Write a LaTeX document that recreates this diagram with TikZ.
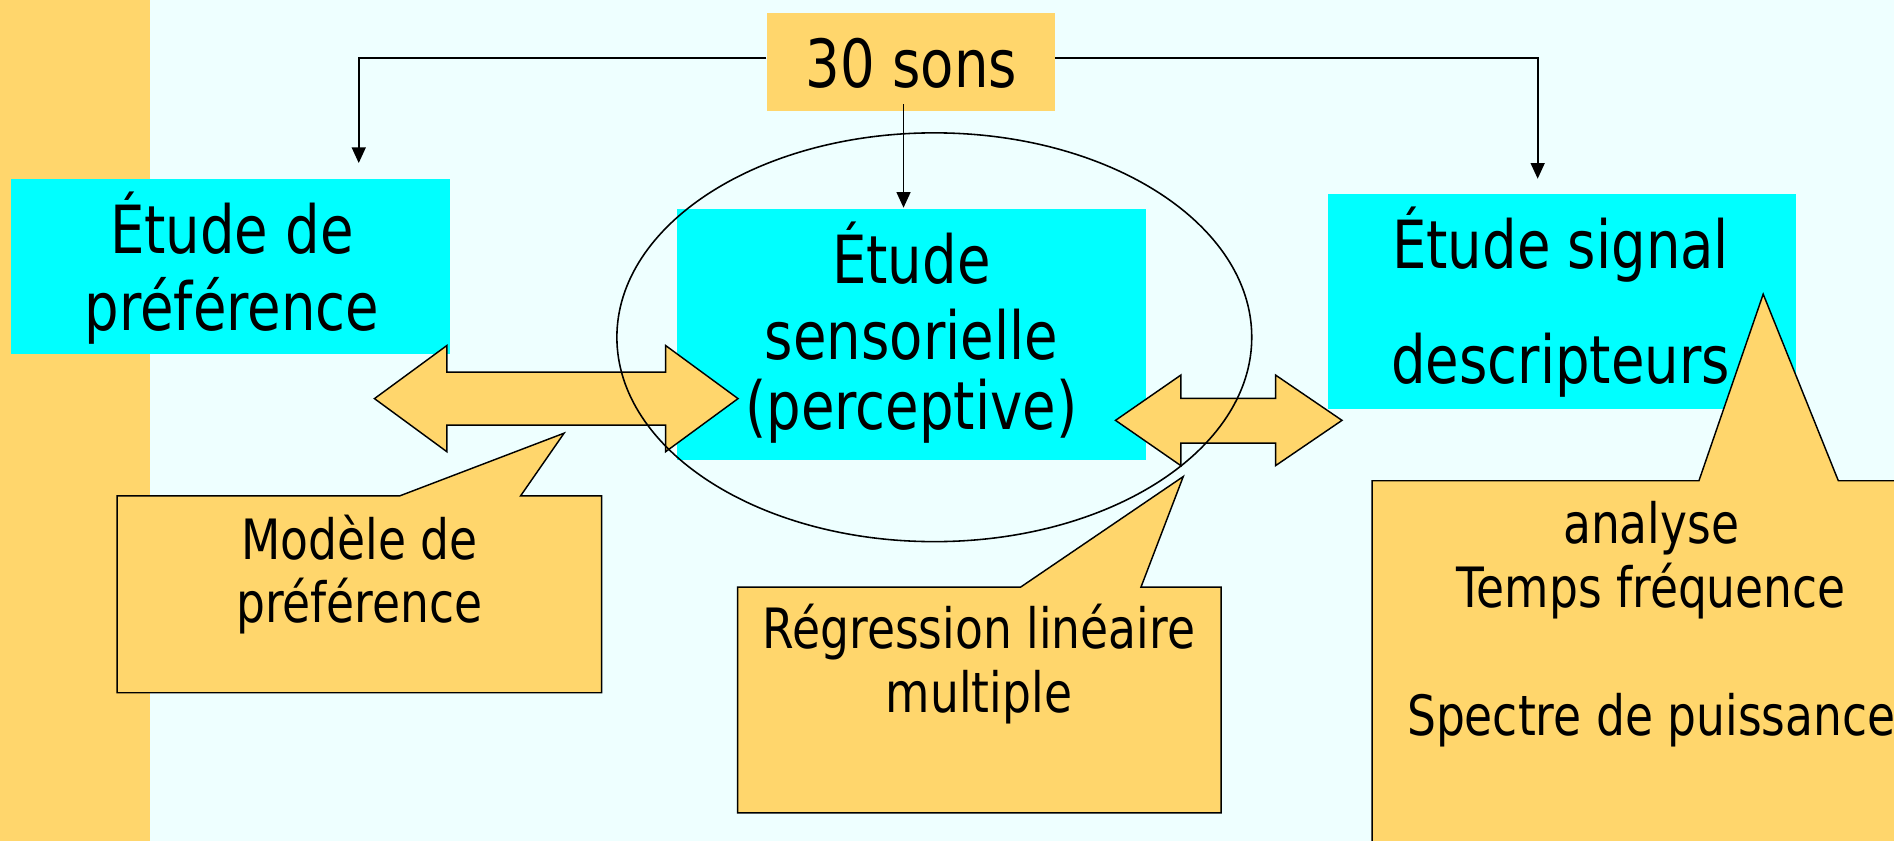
\documentclass[tikz,border=0pt]{standalone}
\usepackage{fontspec}
\setmainfont{DejaVu Sans}[FakeStretch=0.82]
\usetikzlibrary{arrows.meta}

\definecolor{sand}{RGB}{255,214,108}
\definecolor{aqua}{RGB}{0,255,255}
\definecolor{pale}{RGB}{238,255,255}

\tikzset{
  panel/.style={fill=aqua, draw=none, inner sep=0pt},
  tag/.style={fill=sand, draw=none, inner sep=0pt},
  bubble/.style={fill=sand, draw=black, line width=1.2pt, line join=miter},
  twoway/.style={fill=sand, draw=black, line width=1.2pt, line join=miter},
  bigtxt/.style={font=\fontsize{55}{66}\selectfont, inner sep=0pt, anchor=base},
  smalltxt/.style={font=\fontsize{46}{55}\selectfont, inner sep=0pt, anchor=base},
  feed/.style={line width=1.5pt, -{Triangle[length=13pt,width=11.5pt]}},
}

\begin{document}
\begin{tikzpicture}[x=1pt,y=-1pt]
\useasboundingbox (0,0) rectangle (1568,696);
\clip (0,0) rectangle (1568,696);

% slide background and left band
\fill[pale] (0,0) rectangle (1568,696);
\fill[sand] (0,0) rectangle (124.2,696);

% study boxes
\node[panel, minimum width=363.4pt, minimum height=144.8pt] (pref) at (190.8,220.9) {};
\node[panel, minimum width=388.1pt, minimum height=207.5pt] (sens) at (754.75,277.05) {};
\node[panel, minimum width=387.5pt, minimum height=178pt] (sig) at (1293,249.6) {};
\node[tag, minimum width=238.7pt, minimum height=81.1pt] (sons) at (754.05,51.05) {};

\node[bigtxt] (sonsT) at (754.5,72.3) {30 sons};

\node[bigtxt] (prefA) at (192,209.7) {Étude de};
\node[bigtxt] (prefB) at (192,273.2) {préférence};

\node[bigtxt] (sensA) at (754.5,234.6) {Étude};
\node[bigtxt] (sensB) at (754.5,298) {sensorielle};
\node[bigtxt] (sensC) at (754.5,355.4) {(perceptive)};

\node[bigtxt] (sigA) at (1292,222.1) {Étude signal};
\node[bigtxt] (sigB) at (1292,317.3) {descripteurs};

% feeds from the sound set
\coordinate (lvl) at (0,47.7);
\coordinate (tipL) at (297,135);
\coordinate (tipR) at (1273,148);
\coordinate (tipM) at (748,172);
\path ([yshift=5.6pt]sons.south) coordinate (msrc);
\draw[feed] (sons.west |- lvl) -| (tipL);
\draw[feed] (sons.east |- lvl) -| (tipR);
\draw[feed] (msrc -| tipM) -- (tipM);

% two-way block arrows
\draw[twoway] (310,330) -- (370,286) -- (370,308) -- (551,308) -- (551,286)
  -- (611,330) -- (551,374) -- (551,352) -- (370,352) -- (370,374) -- cycle;
\draw[twoway] (923.5,348) -- (977.6,310.5) -- (977.6,329.8) -- (1056,329.8)
  -- (1056,310.5) -- (1111,348) -- (1056,385.5) -- (1056,366.9)
  -- (977.6,366.9) -- (977.6,385.5) -- cycle;

% ring around the sensory study
\draw[line width=1.3pt] (773.5,279.2) ellipse [x radius=262.8pt, y radius=169.2pt];

% callouts
\draw[bubble] (97,410.5) -- (331,410.5) -- (467,358.6) -- (431,410.5)
  -- (498,410.5) -- (498,573.5) -- (97,573.5) -- cycle;
\node[smalltxt] (modA) at (297.5,463) {Modèle de};
\node[smalltxt] (modB) at (297.5,515) {préférence};

\draw[bubble] (610.6,486) -- (845,486) -- (979.6,394.5) -- (944.6,486)
  -- (1011,486) -- (1011,673) -- (610.6,673) -- cycle;
\node[smalltxt] (regA) at (810.5,537) {Régression linéaire};
\node[smalltxt] (regB) at (810.5,590) {multiple};

\draw[bubble] (1136,398) -- (1406.5,398) -- (1459.7,243.5) -- (1521.9,398)
  -- (1600,398) -- (1600,720) -- (1136,720) -- cycle;
\node[smalltxt] (anaA) at (1367,450) {analyse};
\node[smalltxt] (anaB) at (1367,502.6) {Temps fréquence};
\node[smalltxt] (anaC) at (1367,608.5) {Spectre de puissance};
\end{tikzpicture}
\end{document}
